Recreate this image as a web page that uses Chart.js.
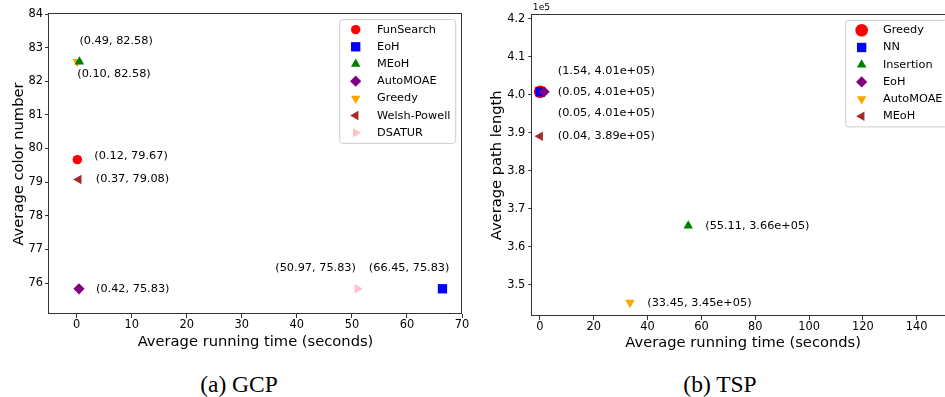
<!DOCTYPE html>
<html>
<head>
<meta charset="utf-8">
<script src="https://cdn.jsdelivr.net/npm/chart.js@4.4.1/dist/chart.umd.min.js"></script>
<style>
html, body { margin: 0; padding: 0; background: #fff; }
body { width: 945px; height: 397px; overflow: hidden; position: relative; }
#gcp_box { position: absolute; left: 0; top: 0; width: 470px; height: 355px; }
#tsp_box { position: absolute; left: 470px; top: 0; width: 475px; height: 355px; overflow: hidden; }
.caption { position: absolute; top: 373px; width: 200px; text-align: center;
  font-family: "Liberation Serif", serif; font-size: 23.5px; line-height: 23.5px; color: #000; }
</style>
</head>
<body>
<div id="gcp_box"><canvas id="chart_gcp" width="470" height="355"></canvas></div>
<div id="tsp_box"><canvas id="chart_tsp" width="492" height="355"></canvas></div>
<div class="caption" style="left:139px">(a) GCP</div>
<div class="caption" style="left:620px">(b) TSP</div>
<script>
// (a) GCP
var gcpMethods = ["FunSearch", "EoH", "MEoH", "AutoMOAE", "Greedy", "Welsh-Powell", "DSATUR"];
var gcpTime = [0.12, 66.45, 0.49, 0.42, 0.10, 0.37, 50.97];
var gcpColorNumber = [79.67, 75.83, 82.58, 75.83, 82.58, 79.08, 75.83];
var gcpNotes = ["(0.12, 79.67)", "(66.45, 75.83)", "(0.49, 82.58)", "(0.42, 75.83)", "(0.10, 82.58)", "(0.37, 79.08)", "(50.97, 75.83)"];
var gcpXTicks = [0, 10, 20, 30, 40, 50, 60, 70];
var gcpYTicks = [76, 77, 78, 79, 80, 81, 82, 83, 84];

// (b) TSP
var tspMethods = ["Greedy", "NN", "Insertion", "EoH", "AutoMOAE", "MEoH"];
var tspTime = [0.05, 0.05, 55.11, 1.54, 33.45, 0.04];
var tspPathLength = [400800, 400800, 365600, 400800, 345400, 389100];
var tspNotes = ["(0.05, 4.01e+05)", "(0.05, 4.01e+05)", "(55.11, 3.66e+05)", "(1.54, 4.01e+05)", "(33.45, 3.45e+05)", "(0.04, 3.89e+05)"];
var tspXTicks = [0, 20, 40, 60, 80, 100, 120, 140];
var tspYTicks = [350000, 360000, 370000, 380000, 390000, 400000, 410000, 420000];

// marker styles: [pointStyle, rotation, radius]
var gcpMarkers = [["circle", 0, 4.7], ["rect", 0, 6.6], ["triangle", 0, 5.5], ["rectRot", 0, 5.6],
                  ["triangle", 180, 5.5], ["triangle", 270, 5.5], ["triangle", 90, 5.5]];
var gcpPalette = ["#ff0000", "#0000ff", "#008000", "#800080", "#ffa500", "#a52a2a", "#ffc0cb"];
var tspMarkers = [["circle", 0, 6.3], ["rect", 0, 6.6], ["triangle", 0, 5.5], ["rectRot", 0, 5.6],
                  ["triangle", 180, 5.5], ["triangle", 270, 5.5]];
var tspPalette = ["#ff0000", "#0000ff", "#008000", "#800080", "#ffa500", "#a52a2a"];

// note placement relative to the point: [dx, dy, align]
var gcpNoteOffsets = [[17, -4, "left"], [7, -20.5, "right"], [0, -20.5, "left"], [17, 0, "left"],
                      [0, 12, "left"], [17, 0, "left"], [-1.3, -20.5, "right"]];
var tspNoteOffsets = [[17.6, 0, "left"], [17.6, 21.2, "left"], [17, 0, "left"], [13.6, -21, "left"],
                      [17.3, 0.5, "left"], [17.6, 0, "left"]];

var FONT = '"DejaVu Sans"';

var framePlugin = {
    id: "frame",
    afterDatasetsDraw: function (chart) {
        var a = chart.chartArea, ctx = chart.ctx;
        var l = Math.round(a.left) - 0.5, t = Math.round(a.top) - 0.5;
        var r = Math.round(a.right) - 0.5, b = Math.round(a.bottom) - 0.5;
        ctx.save();
        ctx.strokeStyle = "#333";
        ctx.lineWidth = 1;
        ctx.strokeRect(l, t, r - l, b - t);
        ctx.restore();
    }
};

var notesPlugin = {
    id: "notes",
    afterDatasetsDraw: function (chart, args, opts) {
        var ctx = chart.ctx;
        ctx.save();
        ctx.font = "11.3px " + FONT;
        ctx.fillStyle = "#000";
        ctx.textBaseline = "middle";
        for (let i = 0; i < opts.texts.length; i++) {
            let el = chart.getDatasetMeta(i).data[0];
            let off = opts.offsets[i];
            ctx.textAlign = off[2];
            ctx.fillText(opts.texts[i], el.x + off[0], el.y + off[1]);
        }
        if (opts.offsetText) {
            ctx.font = "9.2px " + FONT;
            ctx.textAlign = "left";
            ctx.textBaseline = "bottom";
            ctx.fillText(opts.offsetText, chart.chartArea.left + 0.5, chart.chartArea.top - 2.5);
        }
        ctx.restore();
    }
};

var boxLegendPlugin = {
    id: "boxLegend",
    afterDraw: function (chart) {
        var ctx = chart.ctx, area = chart.chartArea;
        var sets = chart.data.datasets;
        ctx.save();
        ctx.font = "11.3px " + FONT;
        var textW = 0;
        sets.forEach(function (d) { textW = Math.max(textW, ctx.measureText(d.label).width); });
        var w = 37.3 + textW + 5.2, h = sets.length * 17.2 + 3.4;
        var left = area.right - 6.3 - w, top = area.top + 5.6;
        ctx.beginPath();
        ctx.roundRect(left, top, w, h, 3);
        ctx.fillStyle = "rgba(255,255,255,0.8)";
        ctx.fill();
        ctx.strokeStyle = "#cccccc";
        ctx.lineWidth = 1;
        ctx.stroke();
        sets.forEach(function (d, i) {
            let y = top + 10 + i * 17.2;
            ctx.fillStyle = d.pointBackgroundColor;
            Chart.helpers.drawPoint(ctx, {pointStyle: d.pointStyle, rotation: d.pointRotation,
                radius: d.pointRadius, borderWidth: 0}, left + 16, y);
            ctx.fillStyle = "#000";
            ctx.textAlign = "left";
            ctx.textBaseline = "middle";
            ctx.fillText(d.label, left + 37.3, y);
        });
        ctx.restore();
    }
};

function makeDatasets(methods, xs, ys, markers, palette, reverseOrder) {
    let datasets = [];
    for (let i = 0; i < methods.length; i++) {
        datasets.push({
            label: methods[i],
            data: [{x: xs[i], y: ys[i]}],
            pointStyle: markers[i][0],
            pointRotation: markers[i][1],
            pointRadius: markers[i][2],
            pointHoverRadius: markers[i][2],
            pointBackgroundColor: palette[i],
            pointBorderColor: palette[i],
            pointBorderWidth: 0,
            showLine: false,
            order: reverseOrder ? -i : i
        });
    }
    return datasets;
}

function fixedTicks(list) {
    return function (scale) {
        scale.ticks = list.map(function (v) { return {value: v}; });
    };
}

function makeChart(canvasId, s) {
    let tickFont = {family: FONT, size: 11.4};
    let titleFont = {family: FONT, size: 14.7};
    return new Chart(document.getElementById(canvasId).getContext("2d"), {
        type: "scatter",
        data: {datasets: s.datasets},
        options: {
            responsive: false,
            animation: false,
            devicePixelRatio: 1,
            layout: {padding: {left: 0, right: 8, top: s.top, bottom: 0}},
            plugins: {
                legend: {display: false},
                tooltip: {enabled: false},
                notes: {texts: s.notes, offsets: s.offsets, offsetText: s.offsetText}
            },
            scales: {
                x: {
                    type: "linear",
                    min: s.xMin, max: s.xMax,
                    afterBuildTicks: fixedTicks(s.xTicks),
                    afterFit: function (scale) { scale.height = s.xAxisHeight; },
                    border: {display: false},
                    grid: {drawOnChartArea: false, drawTicks: true, tickLength: 4, tickColor: "#333", tickWidth: 1},
                    ticks: {padding: 0, maxRotation: 0, autoSkip: false, color: "#000", font: tickFont},
                    title: {display: true, text: "Average running time (seconds)", color: "#000",
                        font: titleFont, padding: {top: 0, bottom: s.xTitlePad}}
                },
                y: {
                    type: "linear",
                    min: s.yMin, max: s.yMax,
                    afterBuildTicks: fixedTicks(s.yTicks),
                    afterFit: function (scale) { scale.width = s.yAxisWidth; },
                    border: {display: false},
                    grid: {drawOnChartArea: false, drawTicks: true, tickLength: 4, tickColor: "#333", tickWidth: 1},
                    ticks: {padding: s.yTickPad, autoSkip: false, color: "#000", font: tickFont, callback: s.yFormat},
                    title: {display: true, text: s.yTitle, color: "#000",
                        font: titleFont, padding: {top: s.yTitlePad, bottom: 0}}
                }
            }
        },
        plugins: [framePlugin, notesPlugin, boxLegendPlugin]
    });
}

makeChart("chart_gcp", {
    datasets: makeDatasets(gcpMethods, gcpTime, gcpColorNumber, gcpMarkers, gcpPalette, false),
    notes: gcpNotes, offsets: gcpNoteOffsets, offsetText: null,
    top: 14, xMin: -5.03, xMax: 70, yMin: 75.08, yMax: 84,
    xTicks: gcpXTicks, yTicks: gcpYTicks,
    xAxisHeight: 41, yAxisWidth: 49, xTitlePad: 4.5, yTitlePad: 10, yTickPad: 2,
    yTitle: "Average color number",
    yFormat: function (v) { return v; }
});

makeChart("chart_tsp", {
    datasets: makeDatasets(tspMethods, tspTime, tspPathLength, tspMarkers, tspPalette, true),
    notes: tspNotes, offsets: tspNoteOffsets, offsetText: "1e5",
    top: 14.7, xMin: -2.86, xMax: 153.9, yMin: 341850, yMax: 421050,
    xTicks: tspXTicks, yTicks: tspYTicks,
    xAxisHeight: 39, yAxisWidth: 62.3, xTitlePad: 3, yTitlePad: 18.5, yTickPad: 3,
    yTitle: "Average path length",
    yFormat: function (v) { return (v / 1e5).toFixed(1); }
});
</script>
</body>
</html>
